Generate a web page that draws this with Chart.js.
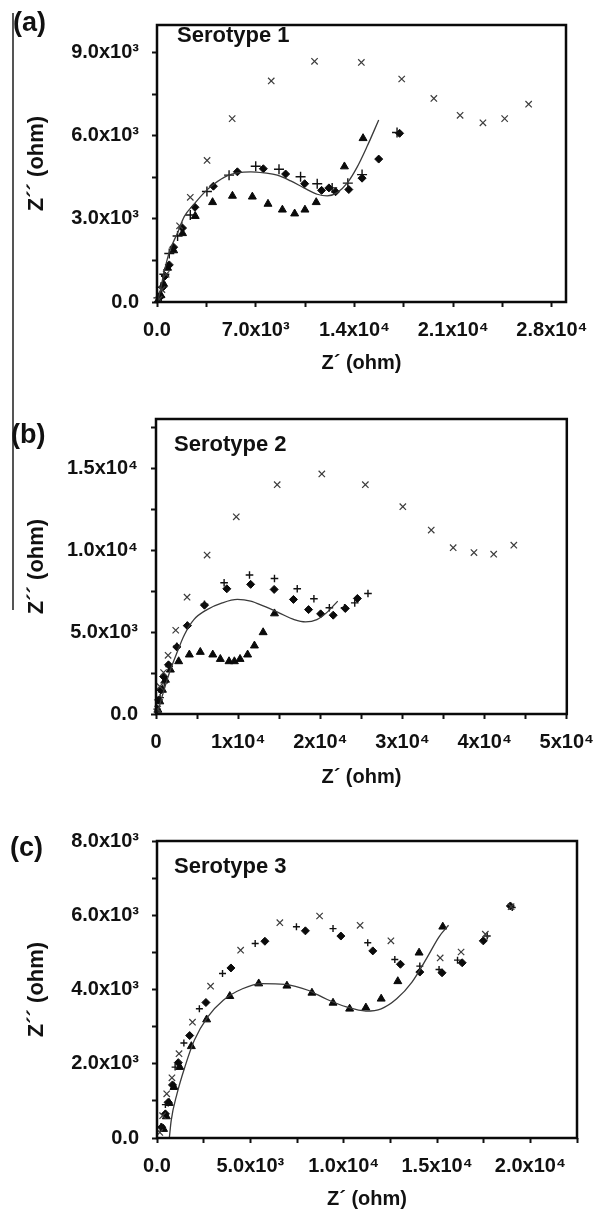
<!DOCTYPE html>
<html>
<head>
<meta charset="utf-8">
<script src="https://cdn.jsdelivr.net/npm/chart.js@4.4.1/dist/chart.umd.min.js"></script>
<style>
  html, body { margin: 0; padding: 0; background: #fff; }
  body { width: 605px; height: 1211px; position: relative; overflow: hidden; }
  canvas { position: absolute; left: 0; }
  .plabel { position: absolute; font: bold 27px 'Liberation Sans', Arial, sans-serif; line-height: 27px; color: #111; white-space: nowrap; }
  .sero { position: absolute; font: bold 22px 'Liberation Sans', Arial, sans-serif; line-height: 22px; color: #111; white-space: nowrap; }
  #rule { position: absolute; left: 12px; top: 13px; width: 1.5px; height: 597px; background: #555; }
</style>
</head>
<body>
<div id="rule"></div>
<canvas id="ca" width="605" height="390" style="top:0px"></canvas>
<canvas id="cb" width="605" height="410" style="top:390px"></canvas>
<canvas id="cc" width="605" height="411" style="top:800px"></canvas>
<div class="plabel" style="left:13px;top:9px">(a)</div>
<div class="plabel" style="left:11px;top:421px">(b)</div>
<div class="plabel" style="left:10px;top:834px">(c)</div>
<div class="sero" style="left:177px;top:24px">Serotype 1</div>
<div class="sero" style="left:174px;top:433px">Serotype 2</div>
<div class="sero" style="left:174px;top:855px">Serotype 3</div>
<script>
// ---------- Panel (a) Serotype 1 ----------
const aCrossX = [150, 350, 650, 1600, 2360, 3550, 5330, 8100, 11170, 14490, 17350, 19630, 21490, 23110, 24650, 26350];
const aCrossY = [100, 450, 1000, 2750, 3780, 5110, 6620, 7980, 8690, 8650, 8050, 7350, 6740, 6470, 6620, 7140];
const aPlusX = [100, 280, 520, 870, 1460, 2360, 3540, 5110, 7000, 8650, 10180, 11360, 12420, 13530, 14540, 17020];
const aPlusY = [150, 530, 1000, 1750, 2380, 3140, 3990, 4580, 4900, 4790, 4520, 4270, 4120, 4290, 4600, 6120];
const aDiamondX = [240, 400, 570, 870, 1180, 1810, 2690, 4000, 5700, 7540, 9120, 10470, 11670, 12190, 12660, 13600, 14540, 15720, 17200];
const aDiamondY = [190, 530, 940, 1340, 1980, 2670, 3420, 4180, 4700, 4810, 4620, 4270, 4030, 4120, 3980, 4060, 4470, 5160, 6090];
const aTriX = [100, 280, 470, 750, 1180, 1810, 2710, 3940, 5350, 6760, 7870, 8890, 9760, 10490, 11290, 13290, 14610];
const aTriY = [80, 240, 650, 1230, 1860, 2480, 3100, 3600, 3830, 3800, 3540, 3330, 3190, 3330, 3600, 4890, 5910];
const aFitX = [50, 280, 520, 870, 1460, 1930, 2640, 3350, 4050, 5000, 5700, 6650, 7600, 8530, 9480, 10420, 11360, 12070, 12780, 13480, 14190, 14900, 15720];
const aFitY = [10, 530, 1110, 1800, 2500, 3080, 3540, 3950, 4260, 4560, 4660, 4700, 4660, 4580, 4370, 4120, 3890, 3830, 3950, 4290, 4870, 5620, 6570];
const aXTickMarks = [0, 3500, 7000, 10500, 14000, 17500, 21000, 24500, 28000];
const aXTickVals = [0, 7000, 14000, 21000, 28000];
const aXTickLabels = ['0.0', '7.0x10³', '1.4x10⁴', '2.1x10⁴', '2.8x10⁴'];
const aYTickMarks = [0, 1500, 3000, 4500, 6000, 7500, 9000];
const aYTickVals = [0, 3000, 6000, 9000];
const aYTickLabels = ['0.0', '3.0x10³', '6.0x10³', '9.0x10³'];

// ---------- Panel (b) Serotype 2 ----------
const bCrossX = [200, 460, 920, 1470, 2400, 3780, 6220, 9770, 14750, 20180, 25480, 30040, 33500, 36170, 38700, 41100, 43550];
const bCrossY = [300, 1680, 2530, 3580, 5110, 7130, 9700, 12030, 13990, 14650, 13990, 12650, 11220, 10150, 9850, 9750, 10300];
const bPlusX = [150, 500, 1000, 1600, 2530, 3820, 5900, 8290, 11380, 14420, 17190, 19220, 21100, 22950, 24190, 25800];
const bPlusY = [300, 1000, 1900, 2900, 4130, 5400, 6700, 8010, 8480, 8270, 7640, 7030, 6480, 6480, 6780, 7350];
const bDiamondX = [320, 600, 920, 1520, 2530, 3820, 5900, 8620, 11520, 14380, 16730, 18570, 20040, 21570, 23040, 24510];
const bDiamondY = [860, 1470, 2290, 3000, 4090, 5390, 6640, 7640, 7910, 7600, 6990, 6370, 6110, 6030, 6440, 7050];
const bTriX = [230, 460, 780, 1150, 1750, 2760, 4060, 5390, 6910, 7830, 8890, 9540, 10230, 11150, 11980, 13040, 14420];
const bTriY = [250, 760, 1470, 2080, 2700, 3210, 3620, 3780, 3620, 3350, 3210, 3210, 3350, 3620, 4170, 4980, 6130];
const bFitX = [230, 920, 1610, 2530, 3460, 4610, 6220, 8060, 9910, 11520, 13130, 14980, 16820, 18200, 19580, 20740, 22120];
const bFitY = [140, 1370, 2490, 3720, 4840, 5760, 6370, 6780, 6990, 6890, 6580, 6170, 5760, 5620, 5760, 6170, 6890];
const bXTickMarks = [0, 5000, 10000, 15000, 20000, 25000, 30000, 35000, 40000, 45000, 50000];
const bXTickVals = [0, 10000, 20000, 30000, 40000, 50000];
const bXTickLabels = ['0', '1x10⁴', '2x10⁴', '3x10⁴', '4x10⁴', '5x10⁴'];
const bYTickMarks = [0, 2500, 5000, 7500, 10000, 12500, 15000, 17500];
const bYTickVals = [0, 5000, 10000, 15000];
const bYTickLabels = ['0.0', '5.0x10³', '1.0x10⁴', '1.5x10⁴'];

// ---------- Panel (c) Serotype 3 ----------
const cCrossX = [150, 300, 520, 800, 1180, 1900, 2870, 4480, 6580, 8710, 10880, 12530, 15170, 16290, 17590, 18970];
const cCrossY = [150, 600, 1190, 1620, 2270, 3120, 4090, 5060, 5800, 5980, 5730, 5310, 4850, 5010, 5490, 6230];
const cPlusX = [200, 450, 970, 1440, 2270, 3510, 5260, 7470, 9430, 11290, 12740, 14080, 15110, 16100, 17690, 19030];
const cPlusY = [300, 900, 1910, 2560, 3480, 4430, 5240, 5690, 5640, 5260, 4810, 4630, 4540, 4790, 5440, 6210];
const cDiamondX = [250, 450, 600, 830, 1140, 1750, 2620, 3960, 5780, 7950, 9850, 11560, 13040, 14080, 15270, 16350, 17480, 18930];
const cDiamondY = [290, 650, 960, 1430, 2030, 2760, 3650, 4580, 5300, 5580, 5440, 5040, 4680, 4470, 4450, 4720, 5310, 6250];
const cTriX = [350, 500, 660, 910, 1220, 1840, 2660, 3900, 5450, 6960, 8300, 9430, 10320, 11190, 12010, 12900, 14040, 15310];
const cTriY = [240, 580, 940, 1370, 1910, 2470, 3190, 3820, 4160, 4100, 3910, 3640, 3480, 3510, 3750, 4220, 4990, 5690];
const cFitX = [660, 760, 1070, 1490, 2000, 2720, 3550, 4580, 5610, 6850, 8090, 9120, 10150, 11190, 12010, 12840, 13660, 14490, 15110, 15620];
const cFitY = [0, 470, 1190, 1910, 2630, 3260, 3710, 4020, 4160, 4140, 3980, 3730, 3530, 3420, 3480, 3750, 4200, 4880, 5420, 5730];
const cXTickMarks = [0, 2500, 5000, 7500, 10000, 12500, 15000, 17500, 20000, 22500];
const cXTickVals = [0, 5000, 10000, 15000, 20000];
const cXTickLabels = ['0.0', '5.0x10³', '1.0x10⁴', '1.5x10⁴', '2.0x10⁴'];
const cYTickMarks = [0, 1000, 2000, 3000, 4000, 5000, 6000, 7000, 8000];
const cYTickVals = [0, 2000, 4000, 6000, 8000];
const cYTickLabels = ['0.0', '2.0x10³', '4.0x10³', '6.0x10³', '8.0x10³'];

const xTitle = 'Z´ (ohm)';
const yTitle = 'Z´´ (ohm)';

// ---------- helpers ----------
const FONT = "'Liberation Sans', Arial, sans-serif";
const zip = (xs, ys) => xs.map((x, i) => ({ x: x, y: ys[i] }));

const boxPlugin = {
  id: 'plotBox',
  afterDraw(chart) {
    const { ctx, chartArea: { left, top, right, bottom } } = chart;
    ctx.save();
    ctx.strokeStyle = '#0a0a0a';
    ctx.lineWidth = 2.5;
    ctx.strokeRect(left, top, right - left, bottom - top);
    ctx.restore();
  }
};

function labelFor(vals, labels) {
  return (value) => {
    const i = vals.indexOf(Math.round(value));
    return i >= 0 ? labels[i] : '';
  };
}

function makeChart(id, p) {
  const datasets = [
    { label: 'fit', data: zip(p.fitX, p.fitY), showLine: true, pointRadius: 0,
      borderColor: '#3a3a3a', borderWidth: 1.3, cubicInterpolationMode: 'monotone', fill: false, clip: false },
    { label: 'cross', data: zip(p.crossX, p.crossY), pointStyle: 'crossRot', pointRadius: p.crossR,
      borderColor: '#3c3c3c', backgroundColor: '#3c3c3c', pointBorderWidth: 1.2, showLine: false, clip: false },
    { label: 'plus', data: zip(p.plusX, p.plusY), pointStyle: 'cross', pointRadius: p.plusR,
      borderColor: '#111', backgroundColor: '#111', pointBorderWidth: 1.4, showLine: false, clip: false },
    { label: 'diamond', data: zip(p.diamondX, p.diamondY), pointStyle: 'rectRot', pointRadius: 4,
      borderColor: '#0a0a0a', backgroundColor: '#0a0a0a', pointBorderWidth: 1, showLine: false, clip: false },
    { label: 'triangle', data: zip(p.triX, p.triY), pointStyle: 'triangle', pointRadius: 4.6,
      borderColor: '#0a0a0a', backgroundColor: '#0a0a0a', pointBorderWidth: 1, showLine: false, clip: false }
  ];
  const tickGrid = { display: true, drawOnChartArea: false, drawTicks: true, tickLength: 5, tickWidth: 2, tickColor: '#111' };
  return new Chart(document.getElementById(id), {
    type: 'scatter',
    data: { datasets: datasets },
    options: {
      responsive: false,
      animation: false,
      devicePixelRatio: 1,
      layout: { padding: { top: p.padTop, right: p.padRight, left: 0, bottom: 0 } },
      plugins: { legend: { display: false }, tooltip: { enabled: false } },
      scales: {
        x: {
          type: 'linear', position: 'bottom', min: 0, max: p.xMax, bounds: 'data',
          grid: tickGrid, border: { display: false },
          afterBuildTicks: (s) => { s.ticks = p.xTickMarks.map(v => ({ value: v })); },
          ticks: { autoSkip: false, maxRotation: 0, padding: 11,
                   color: '#111', font: { family: FONT, size: 20, weight: 'bold' },
                   callback: labelFor(p.xTickVals, p.xTickLabels) },
          title: { display: true, text: xTitle, color: '#111', padding: { top: 0, bottom: p.xTitlePad },
                   font: { family: FONT, size: 20, weight: 'bold', lineHeight: 1.2 } },
          afterFit: (s) => { s.height = p.xAxisH; }
        },
        y: {
          type: 'linear', position: 'left', min: 0, max: p.yMax, bounds: 'data',
          grid: tickGrid, border: { display: false },
          afterBuildTicks: (s) => { s.ticks = p.yTickMarks.map(v => ({ value: v })); },
          ticks: { autoSkip: false, padding: 13,
                   color: '#111', font: { family: FONT, size: 20, weight: 'bold' },
                   callback: labelFor(p.yTickVals, p.yTickLabels) },
          title: { display: true, text: yTitle, color: '#111', padding: { top: 24, bottom: 0 },
                   font: { family: FONT, size: 22, weight: 'bold', lineHeight: 1.2 } },
          afterFit: (s) => { s.width = p.yAxisW; }
        }
      }
    },
    plugins: [boxPlugin]
  });
}

makeChart('ca', {
  crossX: aCrossX, crossY: aCrossY, plusX: aPlusX, plusY: aPlusY,
  diamondX: aDiamondX, diamondY: aDiamondY, triX: aTriX, triY: aTriY, fitX: aFitX, fitY: aFitY,
  xTickMarks: aXTickMarks, xTickVals: aXTickVals, xTickLabels: aXTickLabels,
  yTickMarks: aYTickMarks, yTickVals: aYTickVals, yTickLabels: aYTickLabels,
  xMax: 29000, yMax: 10000,
  padTop: 15, padRight: 39, yAxisW: 157, xAxisH: 88, xTitlePad: 15, crossR: 4.5, plusR: 5
});
makeChart('cb', {
  crossX: bCrossX, crossY: bCrossY, plusX: bPlusX, plusY: bPlusY,
  diamondX: bDiamondX, diamondY: bDiamondY, triX: bTriX, triY: bTriY, fitX: bFitX, fitY: bFitY,
  xTickMarks: bXTickMarks, xTickVals: bXTickVals, xTickLabels: bXTickLabels,
  yTickMarks: bYTickMarks, yTickVals: bYTickVals, yTickLabels: bYTickLabels,
  xMax: 50000, yMax: 18000,
  padTop: 29, padRight: 29, yAxisW: 156, xAxisH: 86, xTitlePad: 11, crossR: 4.5, plusR: 3.8
});
makeChart('cc', {
  crossX: cCrossX, crossY: cCrossY, plusX: cPlusX, plusY: cPlusY,
  diamondX: cDiamondX, diamondY: cDiamondY, triX: cTriX, triY: cTriY, fitX: cFitX, fitY: cFitY,
  xTickMarks: cXTickMarks, xTickVals: cXTickVals, xTickLabels: cXTickLabels,
  yTickMarks: cYTickMarks, yTickVals: cYTickVals, yTickLabels: cYTickLabels,
  xMax: 22500, yMax: 8000,
  padTop: 41, padRight: 28, yAxisW: 157, xAxisH: 73, xTitlePad: 0, crossR: 4.5, plusR: 3.5
});
</script>
</body>
</html>
